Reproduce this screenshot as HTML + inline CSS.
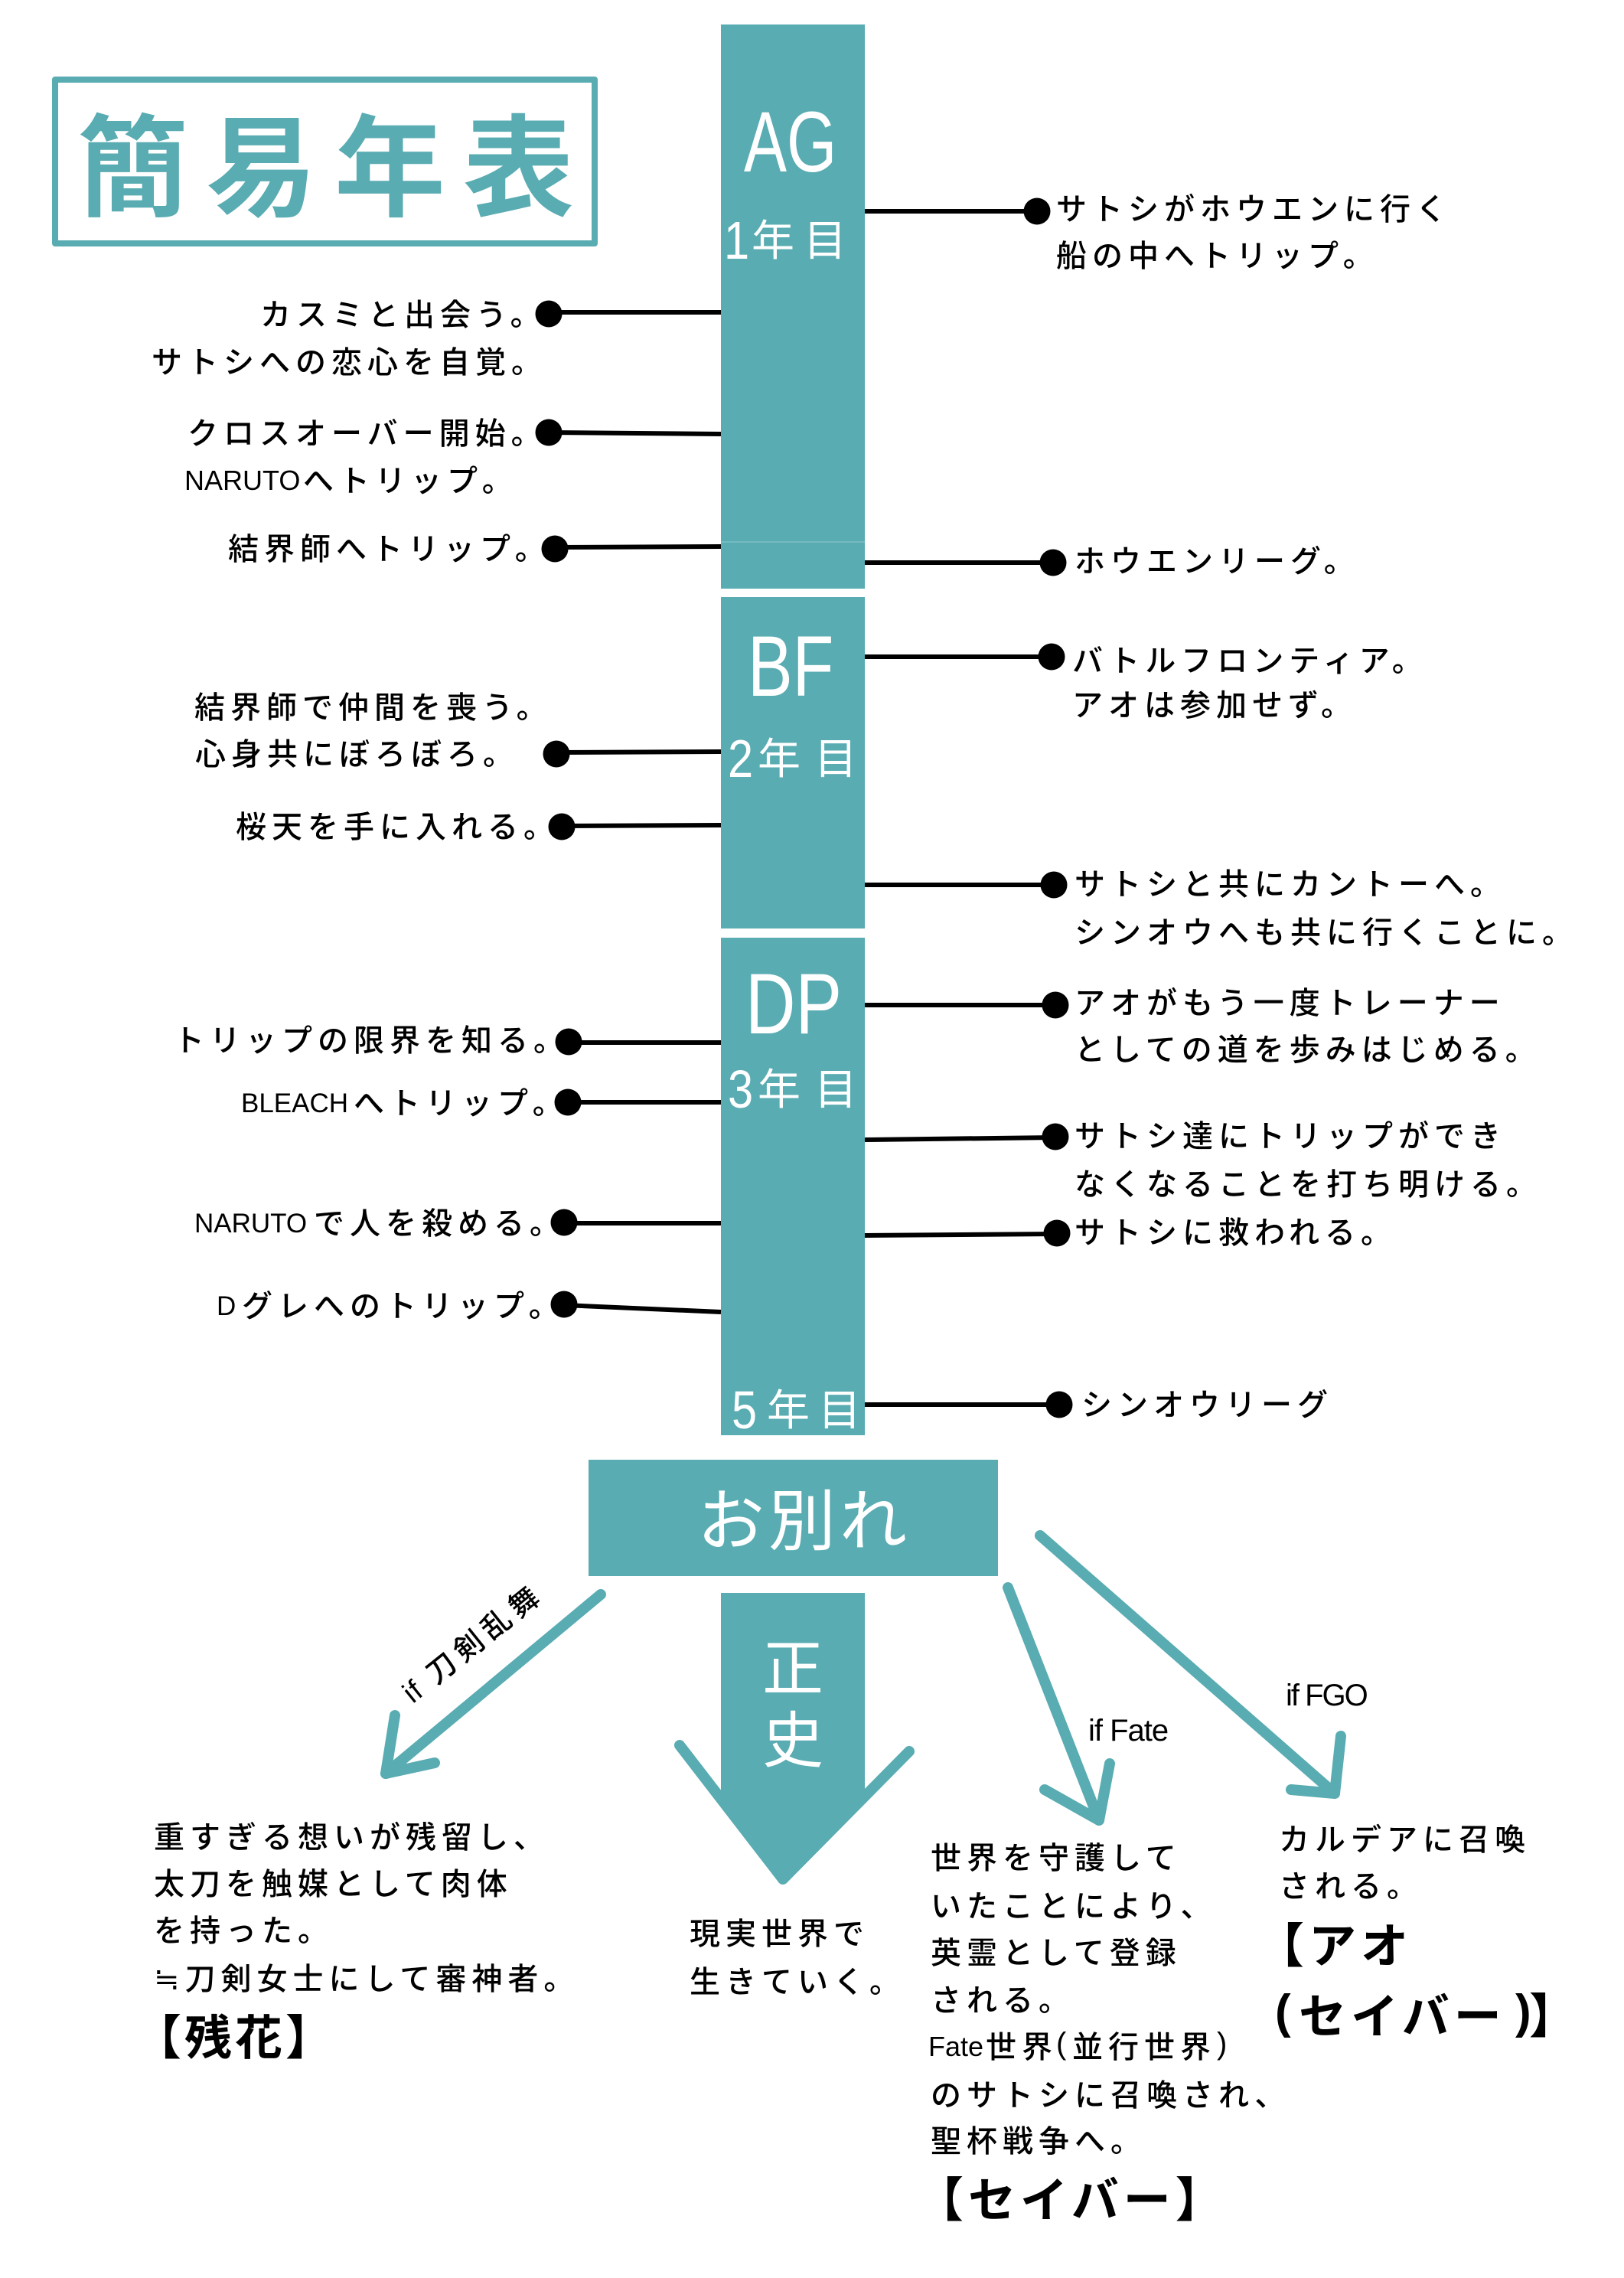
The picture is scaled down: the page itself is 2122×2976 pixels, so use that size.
<!DOCTYPE html>
<html><head><meta charset="utf-8">
<style>
html,body{margin:0;padding:0;background:#fff;}
body{width:2122px;height:2976px;position:relative;overflow:hidden;font-family:"Liberation Sans","Noto Sans CJK JP",sans-serif;}
.a{position:absolute;white-space:nowrap;}
.t{position:absolute;white-space:nowrap;font-size:40px;line-height:40px;letter-spacing:7px;color:#000;font-weight:500;}
.b{position:absolute;white-space:nowrap;font-size:62px;line-height:62px;letter-spacing:6px;color:#000;font-weight:700;}
.L{position:absolute;white-space:nowrap;font-family:"Liberation Sans",sans-serif;color:#000;letter-spacing:0;}
.teal{background:#59acb2;position:absolute;}
.w{color:#fff;}
.yk{position:absolute;white-space:nowrap;font-size:56px;line-height:56px;color:#fff;}
.yd{position:absolute;white-space:nowrap;font-size:70px;line-height:70px;color:#fff;font-family:"Liberation Sans",sans-serif;transform:scaleX(.85);transform-origin:0 0;}
</style></head><body>

<!-- title -->
<div style="position:absolute;left:68px;top:100px;width:713px;height:222px;box-sizing:border-box;border:8px solid #59acb2;border-radius:4px"></div>
<div class="a" style="left:101px;top:149px;font-size:145px;line-height:145px;letter-spacing:23px;color:#59acb2;font-weight:700">簡易年表</div>

<!-- central bar -->
<div class="teal" style="left:942px;top:32px;width:188px;height:737px"></div>
<div style="position:absolute;left:942px;top:707px;width:188px;height:2px;background:#74bbc0"></div>
<div class="teal" style="left:942px;top:780px;width:188px;height:433px"></div>
<div class="teal" style="left:942px;top:1225px;width:188px;height:650px"></div>
<div class="teal" style="left:769px;top:1907px;width:535px;height:152px"></div>

<svg class="a" style="left:0;top:0" width="2122" height="2976" viewBox="0 0 2122 2976">
<g stroke="#000" stroke-width="6">
<line x1="717" y1="408" x2="942" y2="408"/>
<line x1="717" y1="565" x2="942" y2="567"/>
<line x1="725" y1="715" x2="942" y2="714"/>
<line x1="727" y1="983" x2="942" y2="982"/>
<line x1="734" y1="1079" x2="942" y2="1078"/>
<line x1="743" y1="1362" x2="942" y2="1362"/>
<line x1="742" y1="1440" x2="942" y2="1440"/>
<line x1="737" y1="1598" x2="942" y2="1598"/>
<line x1="737" y1="1705" x2="942" y2="1714"/>
<line x1="1130" y1="276" x2="1355" y2="276"/>
<line x1="1130" y1="735" x2="1376" y2="735"/>
<line x1="1130" y1="858" x2="1374" y2="858"/>
<line x1="1130" y1="1156" x2="1377" y2="1156"/>
<line x1="1130" y1="1313" x2="1379" y2="1313"/>
<line x1="1130" y1="1489" x2="1379" y2="1486"/>
<line x1="1130" y1="1614" x2="1381" y2="1612"/>
<line x1="1130" y1="1835" x2="1384" y2="1835"/>
</g>
<g fill="#000">
<circle cx="717" cy="410" r="17.5"/>
<circle cx="717" cy="565" r="17.5"/>
<circle cx="725" cy="717" r="17.5"/>
<circle cx="727" cy="985" r="17.5"/>
<circle cx="734" cy="1080" r="17.5"/>
<circle cx="743" cy="1361" r="17.5"/>
<circle cx="742" cy="1440" r="17.5"/>
<circle cx="737" cy="1597" r="17.5"/>
<circle cx="737" cy="1704" r="17.5"/>
<circle cx="1355" cy="276" r="17.5"/>
<circle cx="1376" cy="735" r="17.5"/>
<circle cx="1374" cy="858" r="17.5"/>
<circle cx="1377" cy="1156" r="17.5"/>
<circle cx="1379" cy="1313" r="17.5"/>
<circle cx="1379" cy="1485" r="17.5"/>
<circle cx="1381" cy="1611" r="17.5"/>
<circle cx="1384" cy="1835" r="17.5"/>
</g>
<polygon fill="#59acb2" points="942,2081 1130,2081 1130,2345 1023,2455 942,2345"/>
<g stroke="#59acb2" stroke-width="14" stroke-linecap="round" stroke-linejoin="round" fill="none">
<polyline points="785,2083 504,2317"/>
<polyline points="516,2241 504,2317 568,2303"/>
<polyline points="888,2280 1023,2455 1188,2288"/>
<polyline points="1317,2074 1436,2378"/>
<polyline points="1450,2304 1436,2378 1365,2338"/>
<polyline points="1359,2006 1744,2343"/>
<polyline points="1752,2268 1744,2343 1687,2338"/>
</g>
</svg>

<!-- bar labels -->
<div class="a w" style="left:972px;top:130px;font-size:112px;line-height:112px;font-family:'Liberation Sans',sans-serif;transform:scaleX(.75);transform-origin:0 0">AG</div>
<div class="a w" style="left:977px;top:815px;font-size:112px;line-height:112px;font-family:'Liberation Sans',sans-serif;transform:scaleX(.785);transform-origin:0 0">BF</div>
<div class="a w" style="left:974px;top:1256px;font-size:112px;line-height:112px;font-family:'Liberation Sans',sans-serif;transform:scaleX(.81);transform-origin:0 0">DP</div>

<div class="yd" style="left:946px;top:279px">1</div>
<div class="yk" style="left:982px;top:287px">年</div>
<div class="yk" style="left:1050px;top:287px">目</div>

<div class="yd" style="left:951px;top:956px">2</div>
<div class="yk" style="left:990px;top:964px">年</div>
<div class="yk" style="left:1064px;top:964px">目</div>

<div class="yd" style="left:951px;top:1388px">3</div>
<div class="yk" style="left:990px;top:1396px">年</div>
<div class="yk" style="left:1064px;top:1396px">目</div>

<div class="yd" style="left:956px;top:1807px">5</div>
<div class="yk" style="left:1002px;top:1815px">年</div>
<div class="yk" style="left:1069px;top:1815px">目</div>

<div class="a w" style="left:911px;top:1944px;font-size:88px;line-height:88px;letter-spacing:5px">お別れ</div>
<div class="a w" style="left:942px;top:2141px;width:188px;text-align:center;font-size:80px;line-height:80px">正</div>
<div class="a w" style="left:942px;top:2235px;width:188px;text-align:center;font-size:80px;line-height:80px">史</div>

<!-- left events -->
<div class="t" style="left:340px;top:392px">カスミと出会う。</div>
<div class="t" style="left:198px;top:454px">サトシへの恋心を自覚。</div>
<div class="t" style="left:245px;top:547px">クロスオーバー開始。</div>
<div class="L" style="left:241px;top:610px;font-size:36px;line-height:36px">NARUTO</div>
<div class="t" style="left:396px;top:609px">へトリップ。</div>
<div class="t" style="left:298px;top:698px">結界師へトリップ。</div>
<div class="t" style="left:254px;top:905px">結界師で仲間を喪う。</div>
<div class="t" style="left:255px;top:966px">心身共にぼろぼろ。</div>
<div class="t" style="left:308px;top:1061px">桜天を手に入れる。</div>
<div class="t" style="left:227px;top:1340px">トリップの限界を知る。</div>
<div class="L" style="left:315px;top:1424px;font-size:35px;line-height:35px">BLEACH</div>
<div class="t" style="left:462px;top:1422px">へトリップ。</div>
<div class="L" style="left:254px;top:1581px;font-size:35px;line-height:35px">NARUTO</div>
<div class="t" style="left:410px;top:1579px">で人を殺める。</div>
<div class="L" style="left:283px;top:1689px;font-size:35px;line-height:35px">D</div>
<div class="t" style="left:316px;top:1687px">グレへのトリップ。</div>

<!-- right events -->
<div class="t" style="left:1380px;top:254px">サトシがホウエンに行く</div>
<div class="t" style="left:1380px;top:315px">船の中へトリップ。</div>
<div class="t" style="left:1404px;top:714px">ホウエンリーグ。</div>
<div class="t" style="left:1401px;top:844px">バトルフロンティア。</div>
<div class="t" style="left:1401px;top:902px">アオは参加せず。</div>
<div class="t" style="left:1404px;top:1136px">サトシと共にカントーへ。</div>
<div class="t" style="left:1404px;top:1199px">シンオウへも共に行くことに。</div>
<div class="t" style="left:1404px;top:1291px">アオがもう一度トレーナー</div>
<div class="t" style="left:1404px;top:1352px">としての道を歩みはじめる。</div>
<div class="t" style="left:1404px;top:1465px">サトシ達にトリップができ</div>
<div class="t" style="left:1404px;top:1528px">なくなることを打ち明ける。</div>
<div class="t" style="left:1404px;top:1591px">サトシに救われる。</div>
<div class="t" style="left:1413px;top:1816px">シンオウリーグ</div>

<!-- arrow labels -->
<div class="a" style="left:619px;top:2147px;font-size:38px;line-height:38px;letter-spacing:8px;font-weight:500;transform:translate(-50%,-50%) rotate(-38.7deg)"><span style="letter-spacing:1px">if</span> 刀剣乱舞</div>
<div class="a" style="left:1422px;top:2241px;font-size:40px;line-height:40px;letter-spacing:-1px">if Fate</div>
<div class="a" style="left:1680px;top:2195px;font-size:40px;line-height:40px;letter-spacing:-2px">if FGO</div>

<!-- bottom: 刀剣乱舞 -->
<div class="t" style="left:201px;top:2381px">重すぎる想いが残留し、</div>
<div class="t" style="left:201px;top:2442px">太刀を触媒として肉体</div>
<div class="t" style="left:201px;top:2503px">を持った。</div>
<div class="t" style="left:201px;top:2566px">≒刀剣女士にして審神者。</div>
<div class="b" style="left:175px;top:2633px;letter-spacing:4px">【残花】</div>

<!-- bottom: 正史 -->
<div class="t" style="left:901px;top:2507px">現実世界で</div>
<div class="t" style="left:901px;top:2570px">生きていく。</div>

<!-- bottom: Fate -->
<div class="t" style="left:1216px;top:2408px">世界を守護して</div>
<div class="t" style="left:1216px;top:2471px">いたことにより、</div>
<div class="t" style="left:1216px;top:2532px">英霊として登録</div>
<div class="t" style="left:1216px;top:2594px">される。</div>
<div class="L" style="left:1213px;top:2656px;font-size:36px;line-height:36px">Fate</div>
<div class="t" style="left:1288px;top:2655px">世界</div>
<div class="L" style="left:1380px;top:2650px;font-size:40px;line-height:40px">(</div>
<div class="t" style="left:1401px;top:2655px">並行世界</div>
<div class="L" style="left:1590px;top:2650px;font-size:40px;line-height:40px">)</div>
<div class="t" style="left:1216px;top:2718px">のサトシに召喚され、</div>
<div class="t" style="left:1216px;top:2778px">聖杯戦争へ。</div>
<div class="b" style="left:1197px;top:2845px">【セイバー】</div>

<!-- bottom: FGO -->
<div class="t" style="left:1671px;top:2384px">カルデアに召喚</div>
<div class="t" style="left:1671px;top:2445px">される。</div>
<div class="b" style="left:1642px;top:2513px">【アオ</div>
<div class="L" style="left:1666px;top:2598px;font-size:62px;line-height:62px;font-weight:700">(</div>
<div class="b" style="left:1697px;top:2605px">セイバー</div>
<div class="L" style="left:1980px;top:2598px;font-size:62px;line-height:62px;font-weight:700">)</div>
<div class="b" style="left:1998px;top:2605px">】</div>

</body></html>
